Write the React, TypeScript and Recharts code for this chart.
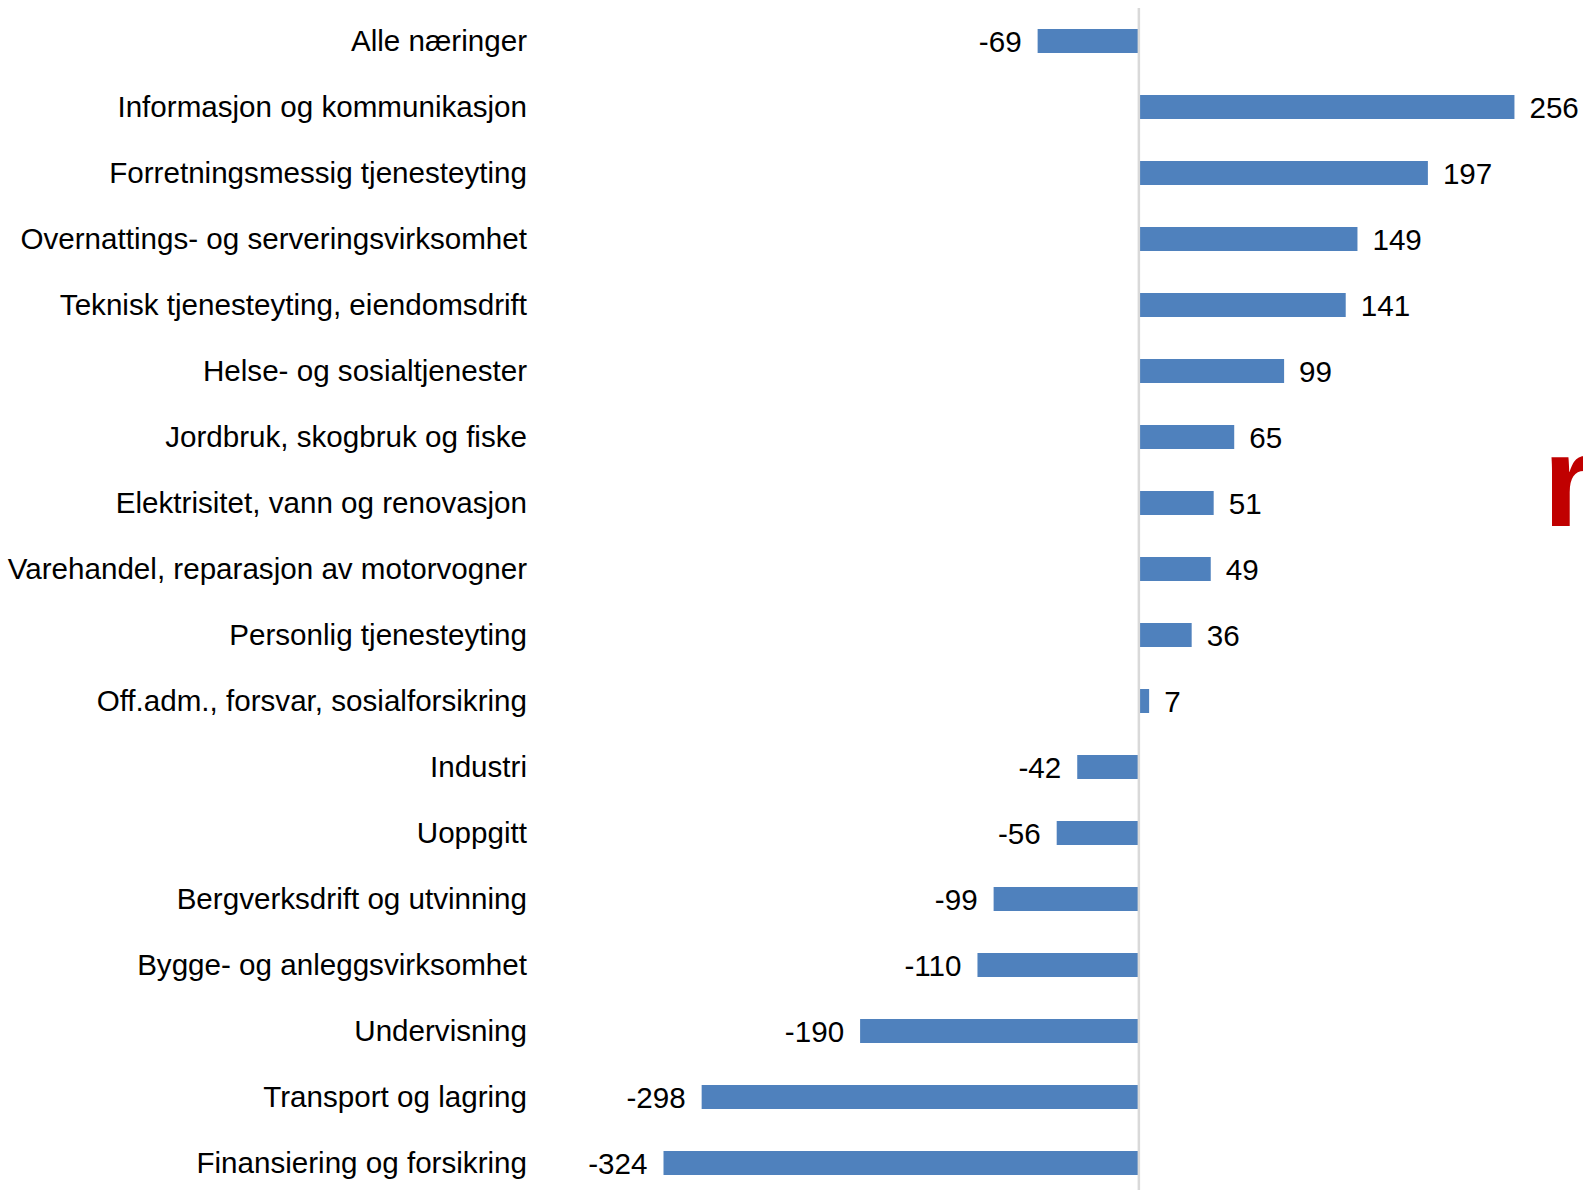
import React from 'react';
import { BarChart, Bar, XAxis, YAxis, ReferenceLine, LabelList } from 'recharts';

const categories: string[] = [
  'Alle næringer',
  'Informasjon og kommunikasjon',
  'Forretningsmessig tjenesteyting',
  'Overnattings- og serveringsvirksomhet',
  'Teknisk tjenesteyting, eiendomsdrift',
  'Helse- og sosialtjenester',
  'Jordbruk, skogbruk og fiske',
  'Elektrisitet, vann og renovasjon',
  'Varehandel, reparasjon av motorvogner',
  'Personlig tjenesteyting',
  'Off.adm., forsvar, sosialforsikring',
  'Industri',
  'Uoppgitt',
  'Bergverksdrift og utvinning',
  'Bygge- og anleggsvirksomhet',
  'Undervisning',
  'Transport og lagring',
  'Finansiering og forsikring',
];

const values: number[] = [-69, 256, 197, 149, 141, 99, 65, 51, 49, 36, 7, -42, -56, -99, -110, -190, -298, -324];

const xDomain: [number, number] = [-400, 300];

const data = categories.map((name, i) => ({ name, value: values[i] }));

const FONT = '"Liberation Sans", Arial, sans-serif';

const CategoryTick = (props: any) => {
  const { y, payload } = props;
  return (
    <text x={527} y={y} dy={10} textAnchor="end" fontFamily={FONT} fontSize={29.6} fill="#000">
      {payload.value}
    </text>
  );
};

const ValueLabel = (props: any) => {
  const { x, y, width, height, value } = props;
  const left = Math.min(x, x + width);
  const right = Math.max(x, x + width);
  const cy = y + height / 2;
  const neg = value < 0;
  return (
    <text
      x={neg ? left - 16 : right + 15}
      y={cy}
      dy={11}
      textAnchor={neg ? 'end' : 'start'}
      fontFamily={FONT}
      fontSize={29.6}
      fill="#000"
    >
      {value}
    </text>
  );
};

export default function App() {
  return (
    <div style={{ position: 'absolute', left: 0, top: 0, width: 1583, height: 1190, overflow: 'hidden', background: '#fff' }}>
      <BarChart
        width={1583}
        height={1200}
        data={data}
        layout="vertical"
        margin={{ top: 8, right: 4, bottom: 4, left: 0 }}
        barSize={24}
      >
        <XAxis type="number" domain={xDomain} hide allowDataOverflow />
        <YAxis
          type="category"
          dataKey="name"
          width={552}
          axisLine={false}
          tickLine={false}
          tick={<CategoryTick />}
          interval={0}
        />
        <Bar dataKey="value" fill="#4F81BD" isAnimationActive={false}>
          <LabelList dataKey="value" content={<ValueLabel />} />
        </Bar>
        <ReferenceLine x={0} stroke="#D9D9D9" strokeWidth={2.5} />
      </BarChart>
      <span
        style={{
          position: 'absolute',
          left: 1543,
          top: 527 - 110,
          fontFamily: FONT,
          fontWeight: 'bold',
          fontSize: 129,
          lineHeight: '129px',
          color: '#C00000',
          whiteSpace: 'nowrap',
        }}
      >
        r
      </span>
    </div>
  );
}
